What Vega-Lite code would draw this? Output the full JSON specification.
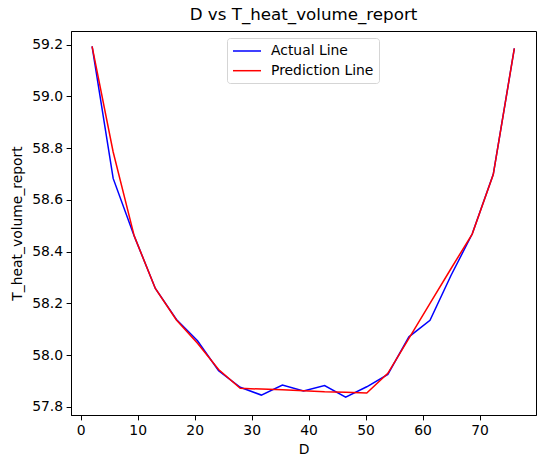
{
  "$schema": "https://vega.github.io/schema/vega-lite/v6.json",
  "autosize": "none",
  "width": 465,
  "height": 384,
  "padding": {"left": 71, "top": 31, "right": 9, "bottom": 53},
  "background": "white",
  "config": {
    "font": "DejaVu Sans",
    "view": {"stroke": "black", "strokeWidth": 1},
    "axis": {
      "grid": false,
      "domainColor": "black",
      "tickColor": "black",
      "tickSize": 4.9,
      "labelPadding": 3.5,
      "labelFontSize": 13.9,
      "labelColor": "black",
      "titleFontSize": 13.9,
      "titleFontWeight": "normal",
      "titleColor": "black",
      "labelFont": "DejaVu Sans",
      "titleFont": "DejaVu Sans"
    }
  },
  "title": {
    "text": "D vs T_heat_volume_report",
    "fontSize": 16.7,
    "fontWeight": "normal",
    "font": "DejaVu Sans",
    "color": "black",
    "anchor": "middle",
    "offset": 7
  },
  "data": {
    "values": [
      {"D": 2.0, "value": 59.193, "series": "Actual Line"},
      {"D": 5.7, "value": 58.683, "series": "Actual Line"},
      {"D": 9.4, "value": 58.460, "series": "Actual Line"},
      {"D": 13.1, "value": 58.258, "series": "Actual Line"},
      {"D": 16.8, "value": 58.138, "series": "Actual Line"},
      {"D": 20.5, "value": 58.056, "series": "Actual Line"},
      {"D": 24.2, "value": 57.940, "series": "Actual Line"},
      {"D": 28.0, "value": 57.876, "series": "Actual Line"},
      {"D": 31.7, "value": 57.846, "series": "Actual Line"},
      {"D": 35.4, "value": 57.885, "series": "Actual Line"},
      {"D": 39.1, "value": 57.862, "series": "Actual Line"},
      {"D": 42.8, "value": 57.883, "series": "Actual Line"},
      {"D": 46.5, "value": 57.838, "series": "Actual Line"},
      {"D": 50.2, "value": 57.878, "series": "Actual Line"},
      {"D": 53.9, "value": 57.926, "series": "Actual Line"},
      {"D": 57.6, "value": 58.071, "series": "Actual Line"},
      {"D": 61.3, "value": 58.135, "series": "Actual Line"},
      {"D": 65.0, "value": 58.309, "series": "Actual Line"},
      {"D": 68.7, "value": 58.468, "series": "Actual Line"},
      {"D": 72.4, "value": 58.699, "series": "Actual Line"},
      {"D": 76.1, "value": 59.185, "series": "Actual Line"},
      {"D": 2.0, "value": 59.193, "series": "Prediction Line"},
      {"D": 5.7, "value": 58.785, "series": "Prediction Line"},
      {"D": 9.4, "value": 58.460, "series": "Prediction Line"},
      {"D": 13.1, "value": 58.258, "series": "Prediction Line"},
      {"D": 16.8, "value": 58.136, "series": "Prediction Line"},
      {"D": 20.5, "value": 58.046, "series": "Prediction Line"},
      {"D": 24.2, "value": 57.945, "series": "Prediction Line"},
      {"D": 28.0, "value": 57.872, "series": "Prediction Line"},
      {"D": 31.7, "value": 57.869, "series": "Prediction Line"},
      {"D": 35.4, "value": 57.867, "series": "Prediction Line"},
      {"D": 39.1, "value": 57.863, "series": "Prediction Line"},
      {"D": 42.8, "value": 57.859, "series": "Prediction Line"},
      {"D": 46.5, "value": 57.857, "series": "Prediction Line"},
      {"D": 50.2, "value": 57.854, "series": "Prediction Line"},
      {"D": 53.9, "value": 57.930, "series": "Prediction Line"},
      {"D": 57.6, "value": 58.065, "series": "Prediction Line"},
      {"D": 61.3, "value": 58.200, "series": "Prediction Line"},
      {"D": 65.0, "value": 58.335, "series": "Prediction Line"},
      {"D": 68.7, "value": 58.468, "series": "Prediction Line"},
      {"D": 72.4, "value": 58.698, "series": "Prediction Line"},
      {"D": 76.1, "value": 59.185, "series": "Prediction Line"}
    ]
  },
  "mark": {"type": "line", "strokeWidth": 1.5, "clip": true},
  "encoding": {
    "x": {
      "field": "D",
      "type": "quantitative",
      "scale": {"domain": [-1.7, 79.9], "nice": false, "zero": false},
      "axis": {"values": [0, 10, 20, 30, 40, 50, 60, 70], "title": "D", "titlePadding": 5}
    },
    "y": {
      "field": "value",
      "type": "quantitative",
      "scale": {"domain": [57.769, 59.2525], "nice": false, "zero": false},
      "axis": {"values": [57.8, 58.0, 58.2, 58.4, 58.6, 58.8, 59.0, 59.2], "format": ".1f", "title": "T_heat_volume_report", "titlePadding": 7}
    },
    "color": {
      "field": "series",
      "type": "nominal",
      "scale": {"domain": ["Actual Line", "Prediction Line"], "range": ["#0000ff", "#ff0000"]},
      "legend": {
        "title": null,
        "orient": "none",
        "legendX": 156,
        "legendY": 7,
        "symbolType": "M-2,0H2",
        "symbolSize": 196,
        "symbolOffset": 7,
        "symbolStrokeWidth": 1.5,
        "labelFontSize": 13.9,
        "labelFont": "DejaVu Sans",
        "labelColor": "black",
        "labelOffset": 16,
        "rowPadding": 4.7,
        "padding": 5,
        "fillColor": "white",
        "strokeColor": "#d5d5d5",
        "cornerRadius": 3
      }
    }
  }
}
